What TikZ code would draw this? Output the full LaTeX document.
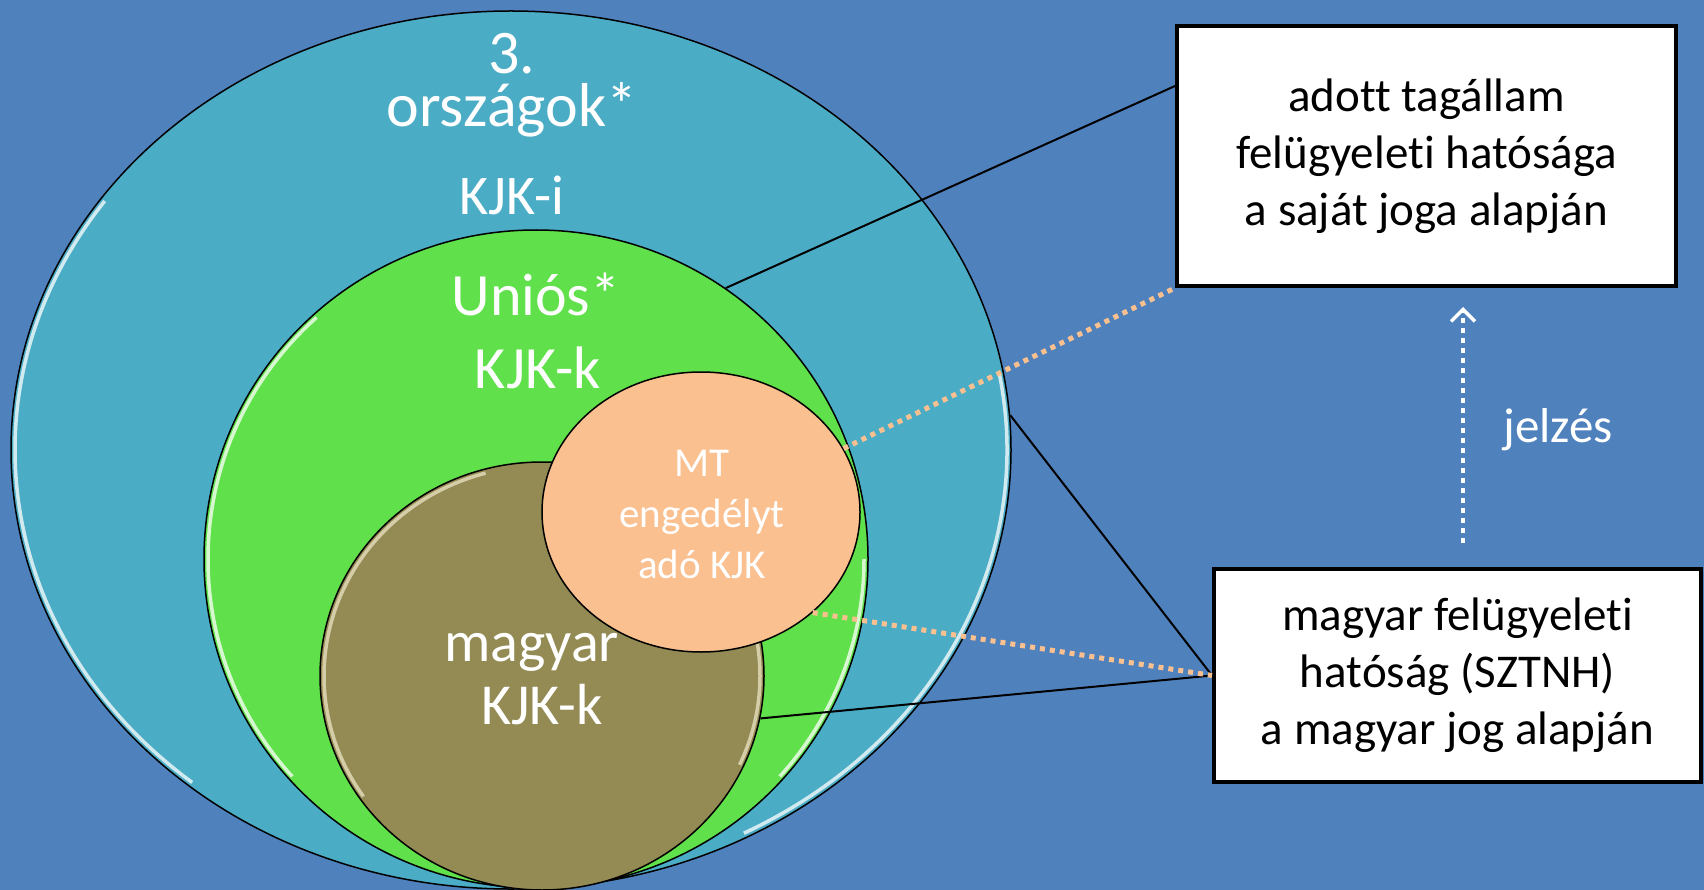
\documentclass[tikz,border=0pt]{standalone}
\usepackage{fontspec}
\setmainfont{Carlito}[Ligatures=NoCommon]
\usetikzlibrary{shapes.geometric,arrows.meta}

\definecolor{slidebg}{RGB}{79,129,189}
\definecolor{aqua}{RGB}{75,172,198}
\definecolor{uniogreen}{RGB}{96,224,74}
\definecolor{hunolive}{RGB}{148,138,84}
\definecolor{peach}{RGB}{250,192,144}
\definecolor{sheen}{RGB}{236,228,196}

\tikzset{
  circ/.style={ellipse, draw=black, line width=1.5pt, inner sep=0pt},
  lbl/.style={text=white, anchor=base, inner sep=0pt},
  rim/.style={line width=3.5pt, white, opacity=0.75},
  authbox/.style={draw=black, line width=4pt, fill=white, align=center,
    inner sep=0pt, font=\fontsize{47}{57}\selectfont},
  link/.style={line width=2pt},
  tie/.style={peach, line width=5pt, dash pattern=on 5pt off 5pt},
  signal/.style={white, line width=3.5pt, dash pattern=on 5pt off 5pt,
    -{Straight Barb[length=12pt,width=24pt,line width=3.5pt]}}
}

\begin{document}
\begin{tikzpicture}[x=1pt,y=-1pt]
  \useasboundingbox (0,0) rectangle (1704,890);
  \fill[slidebg] (0,0) rectangle (1704,890);

  % third countries
  \node[circ, fill=aqua, minimum width=1000pt, minimum height=878pt] (outer) at (511,450) {};
  \draw[rim] (outer.center) ++(130:496 and 434) arc[start angle=130, end angle=215, x radius=496, y radius=434];
  \draw[rim] (outer.center) ++(-10:496 and 434) arc[start angle=-10, end angle=62, x radius=496, y radius=434];
  \node[text=white, inner sep=0pt, anchor=north, align=center,
        font=\fontsize{62}{53}\selectfont] (orszagok) at (512,33) {3.\\országok*};
  \node[lbl, font=\fontsize{56}{56}\selectfont] (kjki) at (512,215) {KJK-i};

  % EU
  \node[circ, fill=uniogreen, minimum width=664pt, minimum height=658pt] (green) at (536,559) {};
  \draw[rim] (green.center) ++(138:328 and 325) arc[start angle=138, end angle=228, x radius=328, y radius=325];
  \draw[rim] (green.center) ++(0:328 and 325) arc[start angle=0, end angle=42, x radius=328, y radius=325];
  \node[lbl, font=\fontsize{60}{60}\selectfont] (unios) at (536,316) {Uniós*};
  \node[lbl, font=\fontsize{60}{60}\selectfont] (kjkeu) at (538,388) {KJK-k};

  % Hungarian
  \node[circ, fill=hunolive, minimum width=444pt, minimum height=428pt] (olive) at (542,676) {};
  \draw[rim, sheen] (olive.center) ++(145:218 and 210) arc[start angle=145, end angle=255, x radius=218, y radius=210];
  \draw[rim, sheen] (olive.center) ++(-15:218 and 210) arc[start angle=-15, end angle=25, x radius=218, y radius=210];
  \node[lbl, font=\fontsize{58}{58}\selectfont] (magyar) at (546,661) {magyar*};
  \node[lbl, font=\fontsize{58}{58}\selectfont] (kjkhu) at (542,724) {KJK-k};

  % licensing member state
  \node[circ, fill=peach, minimum width=318pt, minimum height=280pt] (mt) at (701,512) {};
  \node[lbl, font=\fontsize{41}{41}\selectfont] (mt1) at (702,476) {MT};
  \node[lbl, font=\fontsize{41}{41}\selectfont] (mt2) at (702,527) {engedélyt};
  \node[lbl, font=\fontsize{41}{41}\selectfont] (mt3) at (702,578) {adó KJK};

  % authorities
  \node[authbox, minimum width=499pt, minimum height=260pt] (tagallam) at (1426.5,156)
    {adott tagállam\\felügyeleti hatósága\\a saját joga alapján};
  \node[authbox, minimum width=487pt, minimum height=213pt] (sztnh) at (1457.5,675.5)
    {magyar felügyeleti\\hatóság (SZTNH)\\a magyar jog alapján};

  % connectors
  \draw[link] (green.55) -- ([yshift=-62pt]tagallam.north west);
  \draw[link] (outer.4) -- (sztnh.west);
  \draw[link] (olive.-11) -- (sztnh.west);
  \draw[tie] (mt.24) -- (tagallam.south west);
  \draw[tie] (mt.-42) -- (sztnh.west);

  % signalling
  \coordinate (sig) at (1463,0);
  \draw[signal, shorten <=24pt, shorten >=19pt] (sig |- sztnh.north) -- (sig |- tagallam.south);
  \node[lbl, font=\fontsize{49}{49}\selectfont] (jelzes) at (1558,442) {jelzés};
\end{tikzpicture}
\end{document}
